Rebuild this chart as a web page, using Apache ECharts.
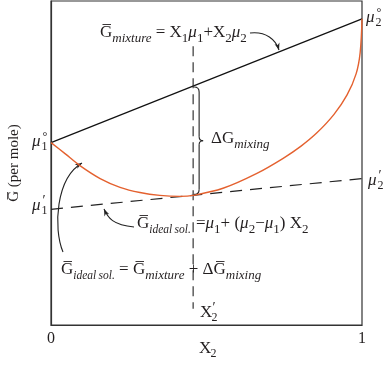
<!DOCTYPE html>
<html><head><meta charset="utf-8">
<script src="https://cdn.jsdelivr.net/npm/echarts@6/dist/echarts.min.js"></script>
<style>html,body{margin:0;padding:0;background:#fff}#c{width:384px;height:366px}</style>
</head><body><div id="c"></div>
<script>
// ---- data ----
const xTickLabels = ['0', '1'];
const xAxisName = 'X';
const xAxisNameSub = '2';
const mixtureX = [0, 1];
const mixtureY = [56.3, 94.5];
const idealX = [0, 1];
const idealY = [35.7, 45.2];
const curveX = [0, 0.045, 0.093, 0.158, 0.222, 0.286, 0.350, 0.415, 0.457, 0.553, 0.662, 0.749, 0.804, 0.855, 0.910, 0.952, 0.981, 0.994, 1.0];
const curveY = [56.3, 52.9, 49.2, 45.2, 42.5, 40.9, 40.0, 39.7, 40.0, 42.2, 46.8, 51.6, 55.2, 59.3, 65.0, 71.0, 77.5, 84.0, 94.5];
const xPrime = 0.457;
const xPrimeSpanY = [86, 5];

// ---- style ----
const FF = '"Liberation Serif", "DejaVu Serif", serif';
const C = '#231f20';
const ORANGE = '#e4612f';
const rich = {
  n: {fontFamily: FF, fontSize: 17, color: C},
  i: {fontFamily: FF, fontSize: 17, fontStyle: 'italic', color: C},
  s: {fontFamily: FF, fontSize: 13, fontStyle: 'italic', color: C, padding: [11, 0, 0, 0]},
  t: {fontFamily: FF, fontSize: 11.5, fontStyle: 'italic', color: C, padding: [11, 0, 0, 0]},
  d: {fontFamily: FF, fontSize: 13, color: C, padding: [11, 0, 0, 0]}
};
const zip = (xs, ys) => xs.map((x, k) => [x, ys[k]]);

const chart = echarts.init(document.getElementById('c'), null, {renderer: 'canvas'});
const option = {
  animation: false,
  backgroundColor: '#fff',
  grid: {left: 51, right: 22, top: 1, bottom: 41, show: true, borderColor: '#333', borderWidth: 1.2,
         containLabel: false, outerBoundsMode: 'none'},
  xAxis: {
    type: 'value', min: 0, max: 1, interval: 1,
    axisLine: {show: true, lineStyle: {color: '#333', width: 1.2}},
    axisTick: {show: false}, splitLine: {show: false},
    axisLabel: {formatter: v => xTickLabels[Math.round(v)] || '', fontFamily: FF, fontSize: 16, color: C, margin: 6}
  },
  yAxis: {
    type: 'value', min: 0, max: 100,
    axisLine: {show: true, lineStyle: {color: '#333', width: 1.2}},
    axisTick: {show: false}, splitLine: {show: false}, axisLabel: {show: false},
    name: 'G\u0305 (per mole)', nameLocation: 'middle', nameGap: 29,
    nameTextStyle: {fontFamily: FF, fontSize: 15, color: C}
  },
  series: [
    {type: 'line', data: zip(mixtureX, mixtureY), symbol: 'none', silent: true,
     lineStyle: {color: '#111', width: 1.2}},
    {type: 'line', data: zip(idealX, idealY), symbol: 'none', silent: true,
     lineStyle: {color: '#222', width: 1.2, type: [12, 8]}},
    {type: 'line', data: [[xPrime, xPrimeSpanY[0]], [xPrime, xPrimeSpanY[1]]], symbol: 'none', silent: true,
     lineStyle: {color: '#222', width: 1.1, type: [10, 6]}},
    {type: 'line', data: zip(curveX, curveY), symbol: 'none', silent: true, smooth: 0.35,
     lineStyle: {color: ORANGE, width: 1.4}}
  ]
};
chart.setOption(option);

// ---- annotations ----
const P = (x, y) => chart.convertToPixel({gridIndex: 0}, [x, y]);
const g = [];
function txt(x, y, text) {
  g.push({type: 'text', x: x, y: y, silent: true,
    style: {text: text, rich: rich, fontFamily: FF, fontSize: 17, fill: C,
      align: 'left', verticalAlign: 'middle', textAlign: 'left', textVerticalAlign: 'middle'}});
}
function plain(x, y, text, size, italic, align) {
  g.push({type: 'text', x: x, y: y, silent: true,
    style: {text: text, fontFamily: FF, fontSize: size, fontStyle: italic ? 'italic' : 'normal', fill: C,
      align: align || 'left', verticalAlign: 'middle', textAlign: align || 'left', textVerticalAlign: 'middle'}});
}
function stacked(x, y, base, sub, sup, italic) {
  plain(x, y, base, 17, italic);
  const w = italic ? 9.5 : 11.5;
  plain(x + w, y + 5, sub, 12, false);
  if (sup) plain(x + w + 1, y - 5, sup, sup === '°' ? 12 : 14, false);
}
function curve(p0, c1, c2, p1) {
  g.push({type: 'bezierCurve', silent: true,
    shape: {x1: p0[0], y1: p0[1], cpx1: c1[0], cpy1: c1[1], cpx2: c2[0], cpy2: c2[1], x2: p1[0], y2: p1[1]},
    style: {stroke: '#222', lineWidth: 1.1, fill: null}});
}
function seg(a, b) {
  g.push({type: 'line', silent: true, shape: {x1: a[0], y1: a[1], x2: b[0], y2: b[1]},
    style: {stroke: '#222', lineWidth: 1.1}});
}
function arrow(p0, c1, c2, p1) {
  curve(p0, c1, c2, p1);
  const dx = p1[0] - c2[0], dy = p1[1] - c2[1];
  const L = Math.hypot(dx, dy) || 1;
  const ux = dx / L, uy = dy / L, nx = -uy, ny = ux;
  const len = 7, hw = 2.6;
  g.push({type: 'polygon', silent: true,
    shape: {points: [[p1[0], p1[1]],
      [p1[0] - ux * len + nx * hw, p1[1] - uy * len + ny * hw],
      [p1[0] - ux * len * 0.7, p1[1] - uy * len * 0.7],
      [p1[0] - ux * len - nx * hw, p1[1] - uy * len - ny * hw]]},
    style: {fill: '#222'}});
}

// brace between mixture line and curve at X2'
const mixAt = mixtureY[0] + (mixtureY[1] - mixtureY[0]) * xPrime;
const curAt = curveY[curveX.indexOf(xPrime)];
const pt = P(xPrime, mixAt), pb = P(xPrime, curAt);
const bx = pt[0] + 4, ty = pt[1] + 1, by = pb[1] - 1, my = (ty + by) / 2;
curve([bx - 3, ty], [bx, ty], [bx + 2, ty + 1], [bx + 2, ty + 5]);
seg([bx + 2, ty + 5], [bx + 2, my - 4]);
curve([bx + 2, my - 4], [bx + 2, my - 1], [bx + 4, my], [bx + 6, my]);
curve([bx + 6, my], [bx + 4, my], [bx + 2, my + 1], [bx + 2, my + 4]);
seg([bx + 2, my + 4], [bx + 2, by - 5]);
curve([bx + 2, by - 5], [bx + 2, by - 1], [bx, by], [bx - 3, by]);

// texts
const TS = '\u2009';
txt(100, 33, '{n|G\u0305}{s|mixture}{n| = X}{d|1}{i|μ}{d|1}{n|+X}{d|2}{i|μ}{d|2}');
txt(211, 139, '{n|ΔG}{s|mixing}');
txt(137, 224, '{n|G\u0305}{t|ideal' + TS + 'sol.}');
txt(196, 224, '{n|=}{i|μ}{d|1}{n|+ (}{i|μ}{d|2}{n|−}{i|μ}{d|1}{n|) X}{d|2}');
txt(61, 270, '{n|G\u0305}{t|ideal' + TS + 'sol.}{n| = G\u0305}{s|mixture}{n| + ΔG\u0305}{s|mixing}');

stacked(32, 142, 'μ', '1', '°', true);
stacked(32, 206, 'μ', '1', '′', true);
stacked(366, 18, 'μ', '2', '°', true);
stacked(368, 181, 'μ', '2', '′', true);
stacked(200, 313, 'X', '2', '′', false);
// x-axis title
stacked(199, 349, xAxisName, xAxisNameSub, null, false);

// arrows
arrow([250, 33], [266, 31], [276, 40], [279, 50]);
arrow([134, 227], [113, 225], [108, 218], [104, 209]);
arrow([63, 252], [53, 228], [56, 178], [82, 163]);

chart.setOption({graphic: {elements: g}});
</script></body></html>
